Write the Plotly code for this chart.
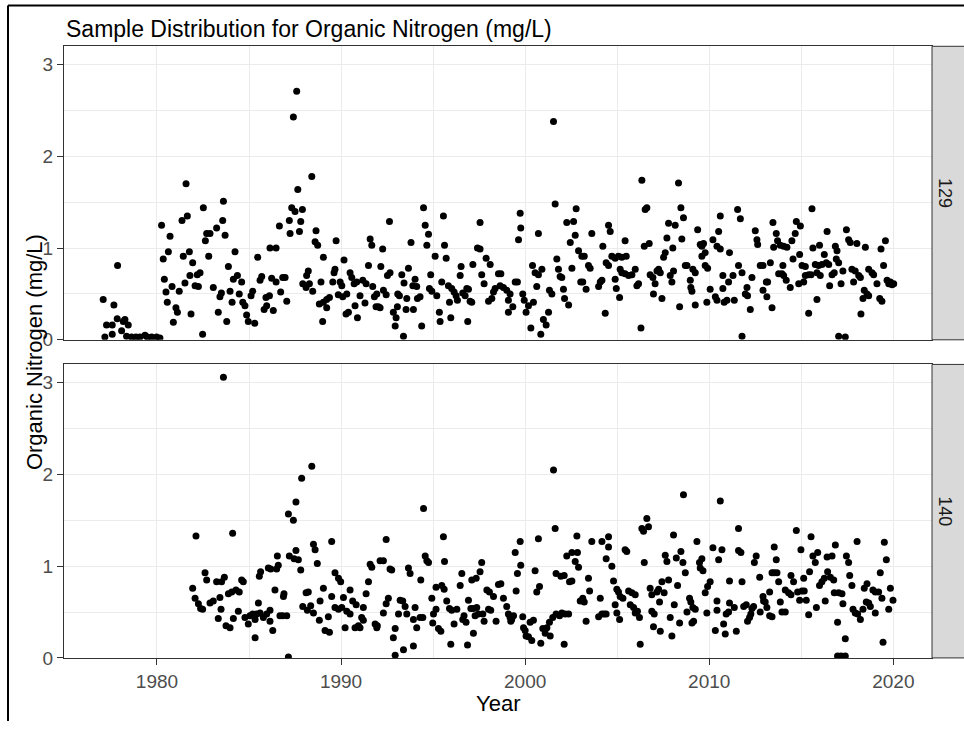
import plotly.graph_objects as go

W, H = 964, 730

title_text = "Sample Distribution for Organic Nitrogen (mg/L)"
x_title = "Year"
y_title = "Organic Nitrogen (mg/L)"
station_labels = ["129", "140"]
x_tick_vals = [1980, 1990, 2000, 2010, 2020]
y_tick_vals = [0, 1, 2, 3]

# ---- Station 129 (top panel) ----
year_129 = [
    1977.08, 1977.17, 1977.26, 1977.57, 1977.66, 1977.57, 1977.86, 1977.84, 1978.08, 1978.17,
    1978.26, 1978.44, 1978.35, 1978.62, 1978.86, 1979.08, 1979.35, 1979.47, 1979.71, 1979.98,
    1980.16, 1980.25, 1980.71, 1980.62, 1980.34, 1980.40, 1980.49, 1980.56, 1980.82, 1980.89,
    1981.03, 1981.11, 1981.21, 1981.36, 1981.58, 1981.65, 1981.43, 1981.52, 1981.76, 1981.94,
    1981.79, 1981.85, 1982.07, 1982.25, 1982.19, 1982.34, 1982.52, 1982.63, 1982.70, 1982.88,
    1982.81, 1982.48, 1983.06, 1983.24, 1983.42, 1983.50, 1983.33, 1983.61, 1983.57, 1983.70,
    1983.88, 1983.79, 1983.97, 1984.08, 1984.15, 1984.24, 1984.37, 1984.47, 1984.60, 1984.66,
    1984.78, 1984.87, 1984.96, 1985.11, 1985.20, 1985.31, 1985.47, 1985.60, 1985.69, 1985.82,
    1985.92, 1985.96, 1986.11, 1986.14, 1986.47, 1986.32, 1986.23, 1986.47, 1986.65, 1986.72,
    1986.83, 1987.05,
    1987.59, 1987.41, 1988.41, 1987.65, 1987.32, 1987.50, 1987.90, 1987.19, 1987.81, 1987.23,
    1987.74, 1988.64, 1988.59, 1988.73, 1989.73, 1989.04, 1986.96, 1988.13, 1988.22, 1987.92,
    1988.10, 1988.28, 1988.46, 1988.91, 1988.82, 1989.04, 1989.22, 1989.37, 1989.22, 1989.00,
    1989.55, 1989.62, 1989.67, 1989.95, 1990.04, 1989.85, 1990.16, 1990.31, 1990.09, 1990.27,
    1990.40, 1990.49, 1990.58, 1990.71, 1990.85, 1990.76, 1990.89, 1991.03, 1991.18, 1991.36,
    1991.30, 1991.49, 1991.58, 1991.67, 1991.72, 1991.81, 1991.94, 1991.90, 1992.03, 1992.12,
    1992.16, 1992.26, 1992.30, 1992.45, 1992.52, 1992.66, 1992.63, 1992.84, 1992.99, 1992.94,
    1993.08, 1993.17, 1993.06, 1993.30, 1993.39, 1993.42, 1993.57, 1993.53, 1993.66, 1993.80,
    1993.90, 1994.02, 1994.11, 1993.93, 1994.15, 1994.29, 1994.38, 1994.48, 1994.57, 1994.75,
    1994.66, 1994.87, 1994.80, 1994.93, 1995.11, 1995.20, 1995.34, 1995.38, 1995.47, 1995.56,
    1995.62, 1995.71, 1995.83, 1995.89, 1995.96, 1996.01, 1996.14, 1996.25, 1996.32, 1996.47,
    1996.52, 1996.61, 1996.74, 1996.83, 1996.92, 1996.88, 1997.01, 1997.10, 1997.16, 1997.41,
    1997.55, 1997.55, 1997.64, 1997.77, 1997.88, 1998.10, 1998.01, 1998.19, 1998.28, 1998.37,
    1998.64, 1998.55, 1998.68, 1998.82, 1999.00, 1999.09,
    1999.18, 1999.09, 1999.33, 1999.46, 1999.58, 1999.64, 1999.76, 1999.73, 1999.87, 1999.95,
    2000.05, 2000.18, 2000.31, 2000.40, 2000.45, 2000.54, 2000.72, 2000.91, 2000.63, 2000.72,
    2000.85, 2000.99, 2001.14, 2001.27, 2001.32, 2001.45, 2001.54, 2001.63, 2001.72, 2001.81,
    2001.90, 2001.99, 2002.08, 2002.14, 2002.26, 2002.63, 2002.36, 2002.45, 2002.72, 2002.54,
    2002.77, 2002.90, 2003.08, 2003.21, 2003.02, 2003.13, 2003.31, 2003.44, 2003.53, 2003.62,
    2003.99, 2004.08, 2004.17, 2004.22, 2004.35, 2004.40, 2004.53, 2004.53, 2004.62, 2004.71,
    2004.89, 2005.07, 2005.25, 2005.49, 2004.89, 2004.95, 2005.13, 2005.16, 2005.25, 2005.43,
    2005.43, 2005.62, 2005.80, 2005.98, 2006.07, 2006.16, 2006.34, 2006.29, 2006.47, 2006.52,
    2006.61, 2006.74, 2006.79, 2006.94, 2006.97, 2007.06, 2007.16, 2007.25, 2007.34, 2007.43,
    2007.52, 2007.61, 2007.70, 2007.79, 2008.15, 2007.88, 2007.97, 2008.02, 2008.06, 2008.33,
    2008.39, 2008.46, 2008.51, 2008.60, 2008.70, 2008.79, 2008.97, 2009.00, 2009.06, 2009.11,
    2009.24, 2009.24, 2009.37, 2009.51, 2009.60, 2009.69, 2009.60, 2009.78, 2009.78, 2009.91,
    2009.87, 2010.05, 2010.20, 2010.33, 2010.42, 2010.42, 2010.60, 2010.51, 2010.60, 2010.74,
    2010.81, 2010.96, 2011.05, 2011.10,
    2010.74, 2011.36, 2011.29, 2011.54, 2011.69, 2011.59, 2011.78, 2011.78, 2011.96, 2012.08,
    2012.05, 2012.23, 2012.32, 2012.50, 2012.59, 2012.63, 2012.77, 2012.92, 2013.32, 2012.92,
    2013.10, 2013.17, 2013.13, 2013.41, 2013.46, 2013.50, 2013.64, 2013.71, 2013.86, 2014.04,
    2014.22, 2013.77, 2013.95, 2014.04, 2014.00, 2014.18, 2014.40, 2014.49, 2014.55, 2014.67,
    2014.73, 2014.95, 2014.86, 2014.91, 2015.04, 2015.22, 2015.13, 2015.22, 2015.40, 2015.53,
    2015.40, 2015.58, 2015.63, 2015.99, 2015.76, 2015.94, 2016.12, 2015.85, 2015.85, 2016.03,
    2016.25, 2016.36, 2016.49, 2016.40, 2016.54, 2016.67, 2016.79, 2016.90, 2017.03, 2016.85,
    2016.94, 2017.03, 2017.39, 2017.16, 2017.26, 2017.45, 2017.57, 2017.66, 2017.75, 2017.93,
    2017.84, 2018.02, 2018.12, 2018.21, 2018.24, 2018.35, 2018.42, 2018.57, 2018.66, 2018.48,
    2018.66, 2018.84, 2018.93, 2019.11, 2019.26, 2019.38, 2019.33, 2019.47, 2019.57, 2019.66,
    2019.75, 2019.84, 2019.93, 2020.02,
]
value_129 = [
    0.44, 0.03, 0.16, 0.16, 0.38, 0.06, 0.81, 0.23, 0.10, 0.20,
    0.22, 0.16, 0.04, 0.03, 0.03, 0.03, 0.05, 0.03, 0.03, 0.03,
    0.02, 1.25, 1.13, 0.96, 0.88, 0.66, 0.52, 0.41, 0.58, 0.19,
    0.35, 0.30, 0.53, 1.30, 1.70, 1.35, 0.91, 0.62, 0.96, 0.84,
    0.70, 0.28, 0.59, 0.58, 0.71, 0.73, 1.44, 1.08, 1.16, 1.16,
    0.91, 0.06, 0.57, 1.22, 0.47, 0.51, 0.30, 1.51, 1.30, 1.14,
    0.80, 0.20, 0.53, 0.41, 0.66, 0.96, 0.70, 0.50, 0.63, 0.41,
    0.37, 0.27, 0.20, 0.48, 0.53, 0.18, 0.90, 0.65, 0.69, 0.33,
    0.46, 0.37, 0.48, 1.00, 1.00, 0.32, 0.67, 0.63, 1.24, 0.52,
    0.68, 0.42,
    2.71, 2.43, 1.78, 1.64, 1.44, 1.40, 1.42, 1.30, 1.29, 1.16,
    1.18, 1.19, 1.07, 1.03, 1.08, 0.90, 0.68, 0.70, 0.75, 0.61,
    0.57, 0.61, 0.53, 0.63, 0.39, 0.41, 0.44, 0.46, 0.35, 0.20,
    0.63, 0.73, 0.77, 0.63, 0.59, 0.49, 0.87, 0.50, 0.47, 0.28,
    0.30, 0.73, 0.68, 0.61, 0.63, 0.37, 0.24, 0.48, 0.65, 0.61,
    0.40, 0.81, 1.10, 1.03, 0.58, 0.47, 0.50, 0.36, 0.36, 0.35,
    0.80, 0.99, 0.54, 0.49, 0.70, 0.73, 1.29, 0.30, 0.24, 0.15,
    0.50, 0.48, 0.36, 0.71, 0.04, 0.62, 0.45, 0.33, 0.78, 1.06,
    0.59, 0.66, 0.58, 0.33, 0.45, 0.47, 0.15, 1.44, 1.25, 1.15,
    1.03, 0.71, 0.56, 0.53, 0.91, 0.48, 0.30, 0.20, 0.63, 1.35,
    1.03, 0.89, 0.59, 0.41, 0.24, 0.56, 0.52, 0.48, 0.43, 0.70,
    0.80, 0.51, 0.48, 0.56, 0.55, 0.20, 0.42, 0.41, 0.82, 1.00,
    0.99, 1.28, 0.71, 0.61, 0.89, 0.82, 0.42, 0.45, 0.52, 0.56,
    0.59, 0.72, 0.72, 0.57, 0.54, 0.30,
    0.50, 0.43, 0.36, 0.63, 0.63, 1.09, 1.22, 1.38, 0.50, 0.43,
    0.30, 0.37, 0.13, 0.81, 0.41, 0.73, 0.71, 0.77, 0.58, 1.16,
    0.06, 0.22, 0.16, 0.30, 0.54, 0.50, 2.38, 1.48, 0.88, 0.77,
    0.69, 0.68, 0.55, 0.45, 1.28, 1.29, 0.38, 1.06, 1.14, 0.78,
    1.43, 0.97, 0.91, 0.91, 0.63, 0.63, 0.55, 0.81, 0.78, 1.16,
    0.58, 0.63, 0.65, 1.02, 0.29, 0.84, 0.81, 1.25, 1.18, 0.91,
    0.89, 0.91, 0.90, 0.91, 0.66, 0.56, 0.46, 0.77, 0.73, 0.72,
    1.08, 0.70, 0.71, 0.77, 0.59, 0.61, 1.74, 0.13, 1.02, 1.42,
    1.44, 1.05, 0.71, 0.68, 0.50, 0.61, 0.75, 0.77, 0.73, 0.45,
    0.90, 0.95, 1.11, 1.27, 1.25, 0.70, 0.63, 1.00, 0.75, 1.71,
    0.36, 1.44, 1.10, 1.33, 0.81, 0.81, 0.65, 0.57, 0.53, 0.77,
    0.73, 0.38, 1.20, 1.04, 1.02, 1.05, 0.91, 0.95, 0.81, 0.78,
    0.41, 0.55, 1.09, 0.47, 0.43, 1.02, 0.99, 1.18, 1.35, 0.56,
    0.41, 0.43, 0.63, 0.95,
    0.70, 0.43, 0.70, 1.42, 1.32, 0.81, 0.73, 0.04, 0.50, 0.48,
    0.57, 0.33, 0.68, 1.19, 1.09, 1.04, 0.81, 0.81, 0.84, 0.54,
    0.63, 0.63, 0.47, 0.35, 1.28, 1.01, 1.16, 1.08, 1.03, 1.02,
    1.01, 0.72, 0.72, 0.70, 0.81, 0.65, 0.57, 1.08, 0.88, 1.16,
    1.29, 1.24, 0.61, 0.93, 0.81, 0.80, 0.63, 0.70, 0.71, 0.71,
    0.29, 1.43, 1.00, 1.03, 0.82, 0.81, 0.82, 0.44, 0.73, 0.70,
    0.93, 0.84, 0.82, 1.18, 0.59, 0.71, 0.73, 0.88, 0.84, 1.02,
    0.97, 0.04, 0.03, 0.61, 0.75, 1.20, 1.09, 1.06, 0.77, 0.75,
    0.63, 1.05, 0.70, 0.68, 0.28, 0.45, 0.54, 0.50, 0.48, 1.01,
    0.77, 0.73, 0.71, 0.61, 0.45, 0.42, 0.99, 0.81, 1.08, 0.65,
    0.61, 0.63, 0.60, 0.61,
]

# ---- Station 140 (bottom panel) ----
year_140 = [
    1983.61, 1982.12, 1984.11, 1981.94, 1982.07, 1982.25, 1982.37, 1982.48, 1982.61, 1982.70,
    1982.88, 1983.06, 1983.24, 1983.51, 1983.66, 1983.42, 1983.33, 1983.48, 1983.75, 1983.97,
    1983.88, 1984.06, 1984.29, 1984.47, 1984.15, 1984.42, 1984.60, 1984.69, 1984.78, 1984.96,
    1985.05, 1985.20, 1985.33, 1985.42, 1985.33, 1985.51, 1985.56, 1985.63, 1985.60, 1985.78,
    1985.96, 1986.14, 1986.05, 1986.18, 1986.14, 1986.29, 1986.41, 1986.50, 1986.59, 1986.54,
    1986.68, 1986.83, 1986.87, 1986.90, 1987.14, 1987.19, 1987.14, 1987.05,
    1988.41, 1987.86, 1987.55, 1987.41, 1987.45, 1987.68, 1987.55, 1987.81, 1988.50, 1988.59,
    1988.71, 1989.49, 1987.92, 1988.10, 1988.22, 1988.17, 1988.35, 1988.50, 1988.86, 1988.82,
    1989.04, 1989.13, 1989.37, 1989.31, 1989.49, 1989.67, 1989.86, 1989.98, 1989.67, 1989.86,
    1990.04, 1990.13, 1990.22, 1990.31, 1990.49, 1990.49, 1990.63, 1990.82, 1990.76, 1990.94,
    1991.03, 1991.12, 1991.21, 1991.21, 1991.36, 1991.49, 1991.58, 1991.67, 1991.85, 1991.94,
    1991.97, 1992.12, 1992.30, 1992.45, 1992.30, 1992.45, 1992.57, 1992.66, 1992.75, 1992.84,
    1992.94, 1992.94, 1993.12, 1993.21, 1993.35, 1993.39, 1993.48, 1993.57, 1993.66, 1993.75,
    1993.93, 1993.93, 1994.11, 1994.29, 1994.44, 1994.02, 1994.33, 1994.48, 1994.57, 1994.66,
    1994.75, 1994.93, 1995.02, 1995.16, 1994.98, 1995.29, 1995.42, 1995.16, 1995.47, 1995.60,
    1995.56, 1995.62, 1995.74, 1995.89, 1996.01, 1996.29, 1996.14, 1995.96, 1996.47, 1996.56,
    1996.61, 1996.68, 1996.79, 1996.87, 1996.92, 1997.05, 1997.19, 1997.37, 1997.10, 1997.34,
    1997.55, 1997.64, 1997.19, 1997.28, 1997.46, 1997.70, 1997.77, 1997.92, 1998.06, 1998.01,
    1998.13, 1998.28, 1998.42, 1998.55, 1998.68, 1998.82, 1999.00,
    1999.09, 1999.18, 1999.27, 1999.37, 1999.22, 1999.51, 1999.46, 1999.58, 1999.73, 1999.76,
    1999.87, 1999.91, 2000.00, 2000.05, 2000.18, 2000.36, 2000.27, 2000.45, 2000.54, 2000.63,
    2000.78, 2000.72, 2000.85, 2000.96, 2001.09, 2001.18, 2001.32, 2001.36, 2001.50, 2001.68,
    2001.87, 2001.99, 2002.17, 2002.36, 2001.54, 2001.63, 2001.68, 2001.94, 2002.12, 2002.12,
    2002.26, 2002.54, 2002.84, 2002.41, 2002.54, 2002.72, 2002.90, 2002.81, 2002.99, 2003.13,
    2003.21, 2003.31, 2003.44, 2003.50, 2003.62, 2003.99, 2004.17, 2004.29, 2004.40, 2004.08,
    2004.17, 2004.53, 2004.40, 2004.53, 2004.71, 2004.80, 2004.89, 2004.98, 2005.07, 2005.16,
    2005.31, 2004.98, 2005.13, 2005.43, 2005.52, 2005.62, 2005.80, 2005.71, 2005.89, 2005.98,
    2006.10, 2006.21, 2005.98, 2006.25, 2006.34, 2006.61, 2006.43, 2006.70, 2006.47, 2006.79,
    2006.88, 2006.88, 2007.01, 2006.97, 2007.16, 2007.25, 2007.30, 2007.34, 2007.43, 2007.55,
    2007.61, 2007.70, 2007.79, 2007.88, 2007.97, 2008.06, 2008.10, 2008.21, 2008.28, 2008.39,
    2008.46, 2008.57, 2008.60, 2008.70, 2008.79, 2008.93, 2009.00, 2009.11, 2009.24, 2009.06,
    2009.15, 2009.33, 2009.47, 2009.60, 2009.51, 2009.66, 2009.78, 2009.91, 2010.05, 2009.87,
    2010.20, 2010.33, 2010.42, 2010.42, 2010.51, 2010.60, 2010.69, 2010.78, 2010.92, 2010.87,
    2011.10, 2011.10,
    2011.05, 2011.36, 2011.47, 2011.59, 2011.59, 2011.72, 2011.78, 2011.87, 2012.01, 2012.08,
    2012.19, 2012.26, 2012.32, 2012.41, 2012.45, 2012.55, 2012.74, 2012.77, 2012.92, 2012.95,
    2013.04, 2013.13, 2013.28, 2013.41, 2013.28, 2013.41, 2013.53, 2013.68, 2013.53, 2013.64,
    2013.77, 2013.86, 2013.95, 2014.13, 2014.13, 2014.31, 2014.44, 2014.44, 2014.58, 2014.73,
    2014.80, 2014.91, 2015.04, 2015.16, 2014.98, 2015.13, 2015.27, 2015.40, 2015.45, 2015.53,
    2015.63, 2015.76, 2015.89, 2015.82, 2015.99, 2016.12, 2016.25, 2016.30, 2016.40, 2016.67,
    2016.43, 2016.58, 2016.76, 2016.79, 2016.85, 2016.97, 2017.03, 2017.21, 2016.97, 2017.16,
    2017.39, 2017.26, 2017.39, 2017.45, 2017.57, 2017.63, 2017.75, 2017.81, 2017.93, 2018.06,
    2018.21, 2018.03, 2018.35, 2018.42, 2018.57, 2018.53, 2018.66, 2018.75, 2018.89, 2019.02,
    2019.20, 2019.02, 2019.29, 2019.38, 2019.44, 2019.51, 2019.62, 2019.75, 2019.84, 2019.98,
]
value_140 = [
    3.06, 1.33, 1.36, 0.76, 0.65, 0.59, 0.54, 0.53, 0.93, 0.85,
    0.60, 0.62, 0.83, 0.83, 0.88, 0.66, 0.43, 0.53, 0.35, 0.33,
    0.70, 0.72, 0.74, 0.72, 0.43, 0.51, 0.85, 0.83, 0.44, 0.37,
    0.46, 0.48, 0.42, 0.48, 0.22, 0.60, 0.89, 0.94, 0.49, 0.44,
    0.48, 0.40, 0.98, 0.97, 0.52, 0.30, 0.74, 0.97, 1.01, 1.11,
    0.46, 0.46, 0.67, 0.70, 1.57, 1.11, 0.01, 0.46,
    2.09, 1.96, 1.70, 1.50, 1.08, 1.07, 1.17, 0.96, 1.24, 1.18,
    1.03, 1.27, 0.56, 0.71, 0.72, 0.52, 0.57, 0.49, 0.62, 0.41,
    0.76, 0.30, 0.28, 0.45, 0.67, 0.93, 0.87, 0.83, 0.55, 0.53,
    0.55, 0.66, 0.33, 0.51, 0.48, 0.74, 0.62, 0.58, 0.33, 0.35,
    0.33, 0.44, 0.41, 0.55, 0.70, 0.83, 1.02, 0.99, 0.37, 0.33,
    0.35, 1.06, 1.06, 1.29, 0.49, 0.59, 0.65, 0.97, 0.96, 0.22,
    0.03, 0.32, 0.48, 0.63, 0.62, 0.09, 0.56, 0.48, 0.98, 0.92,
    0.13, 0.42, 0.33, 0.44, 0.44, 0.55, 0.85, 1.63, 1.11, 1.06,
    1.04, 0.65, 0.48, 0.53, 0.38, 0.32, 0.29, 0.77, 0.79, 0.75,
    1.32, 1.05, 0.62, 0.54, 0.52, 0.53, 0.37, 0.15, 0.79, 0.92,
    0.42, 0.46, 0.39, 0.14, 0.63, 0.54, 0.54, 0.55, 0.85, 0.87,
    0.94, 1.04, 0.27, 0.46, 0.48, 0.48, 0.40, 0.74, 0.72, 0.53,
    0.52, 0.67, 0.40, 0.80, 0.81, 0.65, 0.56,
    0.48, 0.44, 0.42, 0.46, 0.40, 0.73, 1.15, 0.92, 1.27, 1.01,
    0.45, 0.33, 0.30, 0.24, 0.23, 0.19, 0.39, 0.41, 0.95, 0.72,
    0.78, 1.30, 0.16, 0.32, 0.27, 0.33, 0.39, 0.24, 0.44, 0.48,
    0.46, 0.49, 0.48, 0.48, 2.05, 1.41, 0.92, 0.89, 0.90, 0.15,
    1.11, 1.15, 1.15, 0.83, 0.84, 1.05, 0.99, 1.33, 0.62, 0.65,
    0.61, 0.40, 0.87, 0.73, 1.27, 0.45, 0.48, 0.48, 0.48, 0.65,
    1.27, 1.32, 1.08, 1.21, 1.00, 0.84, 0.58, 0.75, 0.72, 0.67,
    0.65, 0.49, 0.42, 1.18, 1.16, 0.73, 0.71, 0.58, 0.55, 0.49,
    0.51, 0.44, 0.69, 0.15, 1.41, 1.52, 1.38, 1.43, 1.04, 0.76,
    0.69, 0.51, 0.48, 0.34, 0.72, 0.75, 0.61, 0.29, 0.83, 0.71,
    1.12, 1.05, 0.85, 0.44, 0.24, 1.34, 0.58, 1.09, 0.79, 0.38,
    1.16, 1.04, 1.78, 0.93, 0.50, 0.65, 0.61, 0.55, 0.53, 0.38,
    0.40, 1.27, 1.04, 1.08, 0.98, 0.95, 0.71, 0.78, 0.83, 0.49,
    1.20, 0.30, 0.52, 0.62, 1.07, 1.71, 1.18, 0.37, 0.48, 0.26,
    0.84, 0.60,
    0.50, 0.55, 0.29, 1.41, 1.17, 1.15, 0.83, 0.56, 0.58, 0.40,
    0.44, 0.48, 0.54, 0.56, 1.04, 1.11, 0.88, 0.50, 0.67, 0.62,
    0.61, 0.55, 0.46, 0.45, 0.72, 0.93, 0.93, 0.93, 1.21, 1.07,
    0.83, 0.61, 0.50, 0.50, 0.74, 0.71, 0.69, 0.90, 0.83, 1.39,
    0.72, 0.63, 0.73, 0.73, 1.18, 0.87, 0.63, 0.47, 0.94, 1.32,
    1.11, 1.04, 1.15, 0.55, 0.79, 0.83, 0.87, 0.62, 1.10, 1.11,
    0.94, 0.88, 0.85, 0.71, 1.23, 0.39, 0.71, 0.70, 0.02, 0.02,
    0.02, 0.59, 0.21, 1.11, 1.04, 0.90, 0.79, 0.53, 0.49, 0.48,
    0.42, 1.27, 0.53, 0.76, 0.81, 0.61, 0.60, 0.56, 0.74, 0.72,
    0.72, 0.49, 0.93, 0.65, 0.17, 1.26, 1.07, 0.53, 0.76, 0.63,
]

FONT = "Liberation Sans, Arial, Helvetica, sans-serif"

# layout geometry (pixels of the 964x730 page)
PL, PR = 64, 932
TOP_P = (47, 345)
BOT_P = (370, 668)


def fx(p):
    return p / W


def fy(p):
    return 1 - p / H


fig = go.Figure()
marker = dict(color="black", size=7, line=dict(width=0))
fig.add_trace(go.Scatter(x=year_129, y=value_129, mode="markers", marker=marker,
                         xaxis="x2", yaxis="y2", showlegend=False, name=station_labels[0]))
fig.add_trace(go.Scatter(x=year_140, y=value_140, mode="markers", marker=marker,
                         xaxis="x", yaxis="y", showlegend=False, name=station_labels[1]))

grid_major = "#EBEBEB"
common = dict(showgrid=True, gridcolor=grid_major, gridwidth=1.3,
              showline=True, mirror=True, linecolor="#333333", linewidth=1,
              zeroline=False, tickfont=dict(family=FONT, size=19, color="#4D4D4D"))

xr = [1974.95, 2022.1]
fig.update_layout(
    width=W, height=H, autosize=False,
    margin=dict(l=0, r=0, t=0, b=0),
    paper_bgcolor="white", plot_bgcolor="white",
    font=dict(family=FONT),
    xaxis=dict(domain=[fx(PL), fx(PR)], anchor="y", range=xr, tickmode="linear",
               tick0=1980, dtick=10, ticks="outside", ticklen=6, tickwidth=1.2,
               tickcolor="#333333",
               minor=dict(dtick=5, tick0=1975, showgrid=True, gridcolor=grid_major,
                          gridwidth=0.7), **common),
    yaxis=dict(domain=[fy(BOT_P[1]), fy(BOT_P[0])], anchor="x", range=[0, 3.2],
               tickmode="array", tickvals=y_tick_vals, ticks="outside", ticklen=6,
               tickwidth=1.2, tickcolor="#333333",
               minor=dict(dtick=0.5, tick0=0, showgrid=True, gridcolor=grid_major,
                          gridwidth=0.7), **common),
    xaxis2=dict(domain=[fx(PL), fx(PR)], anchor="y2", range=xr, matches="x",
                tickmode="linear", tick0=1980, dtick=10, ticks="", showticklabels=False,
                minor=dict(dtick=5, tick0=1975, showgrid=True, gridcolor=grid_major,
                           gridwidth=0.7), **common),
    yaxis2=dict(domain=[fy(TOP_P[1]), fy(TOP_P[0])], anchor="x2", range=[0, 3.2],
                tickmode="array", tickvals=y_tick_vals, ticks="outside", ticklen=6,
                tickwidth=1.2, tickcolor="#333333",
                minor=dict(dtick=0.5, tick0=0, showgrid=True, gridcolor=grid_major,
                           gridwidth=0.7), **common),
)

shapes = []
for (t, b) in (TOP_P, BOT_P):
    shapes.append(dict(type="rect", xref="paper", yref="paper",
                       x0=fx(PR), x1=fx(W + 6), y0=fy(b), y1=fy(t),
                       fillcolor="#D9D9D9", line=dict(color="#333333", width=1)))
# outer screenshot frame
shapes.append(dict(type="line", xref="paper", yref="paper", x0=fx(8), x1=fx(W + 2),
                   y0=fy(5.5), y1=fy(5.5), line=dict(color="black", width=2)))
shapes.append(dict(type="line", xref="paper", yref="paper", x0=fx(8), x1=fx(8),
                   y0=fy(5.5), y1=fy(H + 2), line=dict(color="black", width=2)))

annotations = [
    dict(text=title_text, xref="paper", yref="paper", x=fx(PL), y=fy(29),
         xanchor="left", yanchor="middle", showarrow=False,
         font=dict(family=FONT, size=23, color="black")),
    dict(text=x_title, xref="paper", yref="paper", x=fx((PL + PR) / 2), y=fy(714),
         xanchor="center", yanchor="middle", showarrow=False,
         font=dict(family=FONT, size=22, color="black")),
    dict(text=y_title, xref="paper", yref="paper", x=fx(34), y=fy((TOP_P[0] + BOT_P[1]) / 2),
         xanchor="center", yanchor="middle", textangle=-90, showarrow=False,
         font=dict(family=FONT, size=22, color="black")),
]
for lab, (t, b) in zip(station_labels, (TOP_P, BOT_P)):
    annotations.append(dict(text=lab, xref="paper", yref="paper", x=fx(945), y=fy((t + b) / 2),
                            xanchor="center", yanchor="middle", textangle=90, showarrow=False,
                            font=dict(family=FONT, size=18, color="#1A1A1A")))

fig.update_layout(shapes=shapes, annotations=annotations)

fig.write_html(
    "out.html",
    config={"displayModeBar": False},
    post_script="document.body.style.margin='0';document.body.style.overflow='hidden';",
)
